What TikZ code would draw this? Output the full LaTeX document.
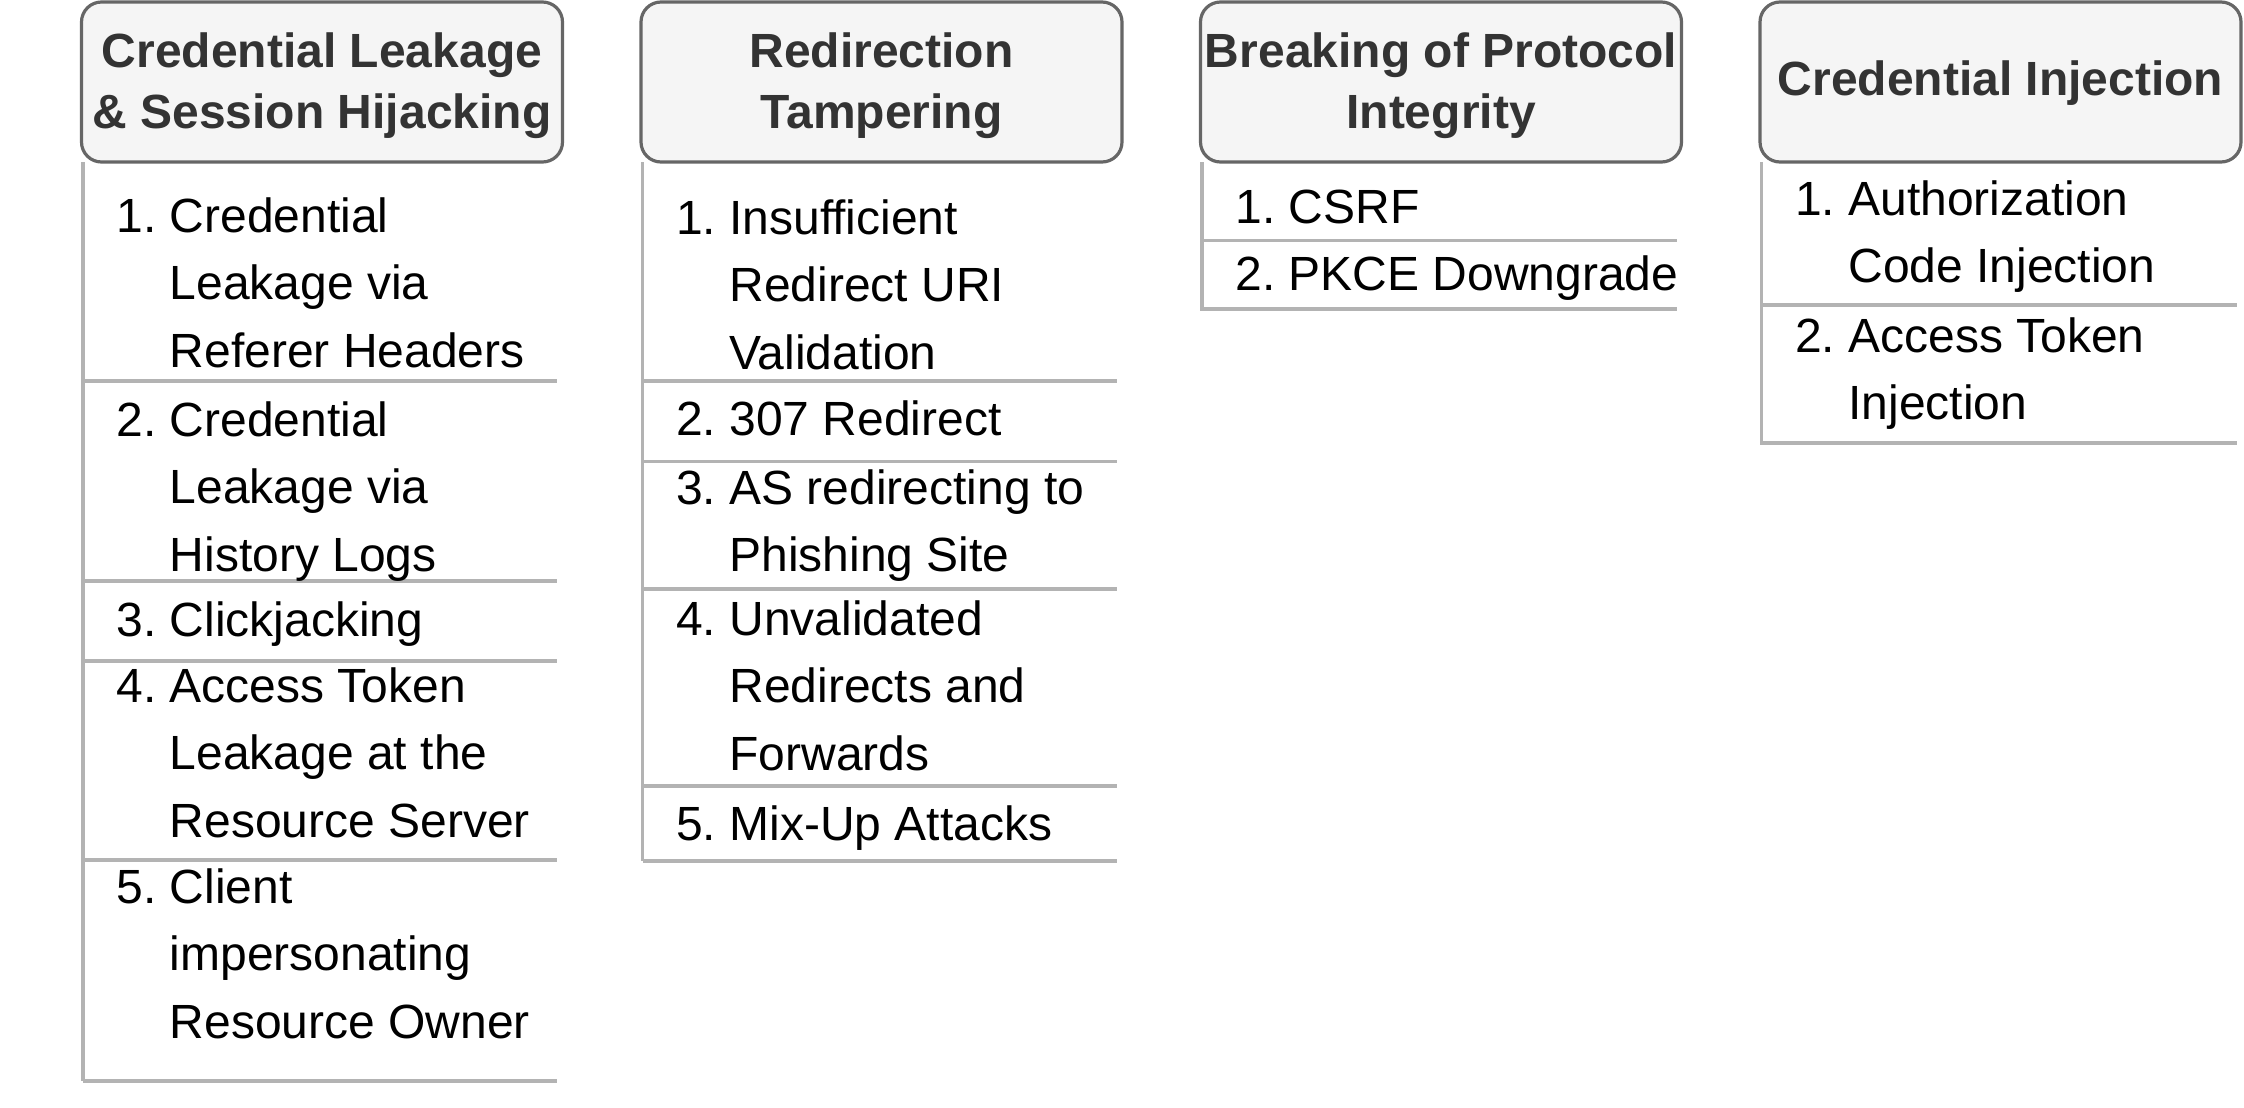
\documentclass[tikz,border=0pt]{standalone}
\usepackage{fontspec}
\setmainfont{Liberation Sans}

\definecolor{hdrfill}{HTML}{F5F5F5}
\definecolor{hdrline}{HTML}{666666}
\definecolor{hdrtext}{HTML}{333333}
\definecolor{rulegray}{HTML}{B3B3B3}

\tikzset{
  hdrbox/.style={draw=hdrline, fill=hdrfill, line width=1.6pt, rounded corners=10pt,
    minimum width=240.5pt, minimum height=80pt, inner sep=0pt},
  hdrtitle/.style={text=hdrtext, font=\fontsize{24}{30}\selectfont\bfseries,
    inner sep=0pt, anchor=base},
  entry/.style={font=\fontsize{24}{33.75}\selectfont, inner sep=0pt, anchor=base west},
  listrule/.style={draw=rulegray, line width=1.6pt},
}

% numbered entry with hanging indent
\newcommand{\itm}[2]{\makebox[26.69pt][l]{#1}\parbox[t]{210pt}{\raggedright #2}}
% centred header title
\newcommand{\ttl}[1]{\parbox[t]{240pt}{\centering #1}}

\begin{document}
\begin{tikzpicture}[x=0.5pt, y=-0.5pt]
\useasboundingbox (0,0) rectangle (2244,1108);

% ---------- column 1 ----------
\draw[listrule] (83,162) -- (83,1081);
\foreach \yy in {381,581,661,860,1081} \draw[listrule] (83,\yy) -- (557,\yy);
\node[hdrbox] (h1) at (322,82) {};
\node[hdrtitle] (t1) at (h1.center |- 0,68) {\ttl{Credential Leakage\\\& Session Hijacking}};
\node[entry] (c1a) at (116.1,232) {\itm{1.}{Credential\\Leakage via\\Referer Headers}};
\node[entry] (c1b) at (116.1,436) {\itm{2.}{Credential\\Leakage via\\History Logs}};
\node[entry] (c1c) at (116.1,636) {\itm{3.}{Clickjacking}};
\node[entry] (c1d) at (116.1,702) {\itm{4.}{Access Token\\Leakage at the\\Resource Server}};
\node[entry] (c1e) at (116.1,903) {\itm{5.}{Client\\impersonating\\Resource Owner}};

% ---------- column 2 ----------
\draw[listrule] (642.5,162) -- (642.5,861);
\foreach \yy in {381,461.5,589,786,861} \draw[listrule] (642.5,\yy) -- (1117,\yy);
\node[hdrbox] (h2) at (881.5,82) {};
\node[hdrtitle] (t2) at (h2.center |- 0,68) {\ttl{Redirection\\Tampering}};
\node[entry] (c2a) at (675.6,234) {\itm{1.}{Insufficient\\Redirect URI\\Validation}};
\node[entry] (c2b) at (675.6,435) {\itm{2.}{307 Redirect}};
\node[entry] (c2c) at (675.6,504) {\itm{3.}{AS redirecting to\\Phishing Site}};
\node[entry] (c2d) at (675.6,635) {\itm{4.}{Unvalidated\\Redirects and\\Forwards}};
\node[entry] (c2e) at (675.6,840) {\itm{5.}{Mix-Up Attacks}};

% ---------- column 3 ----------
\draw[listrule] (1202,162) -- (1202,311);
\foreach \yy in {240.5,309} \draw[listrule] (1202,\yy) -- (1677,\yy);
\node[hdrbox] (h3) at (1441,82) {};
\node[hdrtitle] (t3) at (h3.center |- 0,68) {\ttl{Breaking of Protocol\\Integrity}};
\node[entry] (c3a) at (1235.1,223) {\itm{1.}{CSRF}};
\node[entry] (c3b) at (1235.1,290) {\itm{2.}{PKCE Downgrade}};

% ---------- column 4 ----------
\draw[listrule] (1761.5,162) -- (1761.5,445);
\foreach \yy in {305,443} \draw[listrule] (1761.5,\yy) -- (2237,\yy);
\node[hdrbox] (h4) at (2000.5,82) {};
\node[hdrtitle] (t4) at (h4.center |- 0,95) {\ttl{Credential Injection}};
\node[entry] (c4a) at (1794.6,215) {\itm{1.}{Authorization\\Code Injection}};
\node[entry] (c4b) at (1794.6,352) {\itm{2.}{Access Token\\Injection}};
\end{tikzpicture}
\end{document}
